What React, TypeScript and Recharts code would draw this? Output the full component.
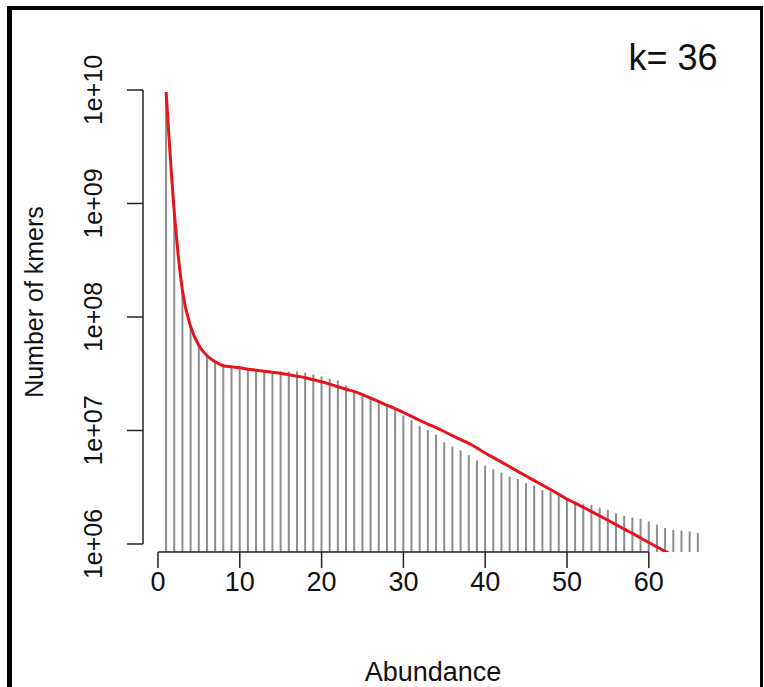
import React from "react";
import { ComposedChart, Bar, Line, XAxis, YAxis, ReferenceLine } from "recharts";

const abundance = [
  1, 2, 3, 4, 5, 6, 7, 8, 9, 10, 11, 12, 13, 14, 15, 16, 17, 18, 19, 20, 21, 22,
  23, 24, 25, 26, 27, 28, 29, 30, 31, 32, 33, 34, 35, 36, 37, 38, 39, 40, 41, 42,
  43, 44, 45, 46, 47, 48, 49, 50, 51, 52, 53, 54, 55, 56, 57, 58, 59, 60, 61, 62,
  63, 64, 65, 66,
];

const kmerCounts = [
  9.4e9, 8.0e8, 1.66e8, 7.9e7, 5.8e7, 4.65e7, 4.11e7, 3.72e7, 3.64e7, 3.53e7,
  3.43e7, 3.36e7, 3.29e7, 3.29e7, 3.31e7, 3.31e7, 3.31e7, 3.23e7, 3.12e7, 2.99e7,
  2.86e7, 2.76e7, 2.49e7, 2.26e7, 2.04e7, 1.91e7, 1.85e7, 1.69e7, 1.51e7, 1.35e7,
  1.23e7, 1.1e7, 1.01e7, 9.2e6, 7.85e6, 7.24e6, 6.68e6, 6.04e6, 5.46e6, 4.9e6,
  4.55e6, 4.26e6, 3.93e6, 3.74e6, 3.43e6, 3.27e6, 2.99e6, 2.9e6, 2.75e6, 2.45e6,
  2.37e6, 2.24e6, 2.21e6, 2.1e6, 2.0e6, 1.87e6, 1.77e6, 1.71e6, 1.67e6, 1.58e6,
  1.48e6, 1.38e6, 1.33e6, 1.31e6, 1.29e6, 1.25e6,
];

const fitCounts = [
  9.6e9, 8.3e8, 1.69e8, 8.2e7, 5.6e7, 4.55e7, 4.03e7, 3.72e7, 3.64e7, 3.57e7,
  3.46e7, 3.4e7, 3.33e7, 3.26e7, 3.19e7, 3.1e7, 3.01e7, 2.92e7, 2.8e7, 2.69e7,
  2.56e7, 2.43e7, 2.31e7, 2.2e7, 2.07e7, 1.93e7, 1.8e7, 1.67e7, 1.56e7, 1.44e7,
  1.33e7, 1.23e7, 1.14e7, 1.06e7, 9.8e6, 9.0e6, 8.3e6, 7.7e6, 7.0e6, 6.34e6,
  5.77e6, 5.26e6, 4.79e6, 4.36e6, 3.97e6, 3.62e6, 3.3e6, 3.01e6, 2.74e6, 2.49e6,
  2.29e6, 2.1e6, 1.93e6, 1.77e6, 1.62e6, 1.48e6, 1.35e6, 1.24e6, 1.13e6, 1.03e6,
  9.4e5, 8.6e5, 7.9e5, 7.2e5, 6.6e5, 6.0e5,
];

const xTicks = [0, 10, 20, 30, 40, 50, 60];
const yTicks = [1e6, 1e7, 1e8, 1e9, 1e10];
const yTickLabels = ["1e+06", "1e+07", "1e+08", "1e+09", "1e+10"];
const xDomain = [-1.83, 68.7];
const yDomain = [8.5e5, 1e10];

const data = abundance.map((a, i) => ({ a, count: kmerCounts[i], fit: fitCounts[i] }));

const FONT = "'Liberation Sans', Arial, sans-serif";

const XTick = (props: any) => {
  const { x, y, payload } = props;
  return (
    <text x={x} y={y + 21} textAnchor="middle" fontFamily={FONT} fontSize={27} fill="#111">
      {payload.value}
    </text>
  );
};

const YTick = (props: any) => {
  const { x, y, payload } = props;
  const idx = yTicks.indexOf(payload.value);
  const label = idx >= 0 ? yTickLabels[idx] : String(payload.value);
  const tx = x - 23;
  return (
    <text
      x={tx}
      y={y}
      textAnchor="middle"
      fontFamily={FONT}
      fontSize={25}
      fill="#111"
      transform={`rotate(-90, ${tx}, ${y})`}
    >
      {label}
    </text>
  );
};

export default function App() {
  return (
    <div
      style={{
        position: "fixed",
        left: 0,
        top: 0,
        width: 764,
        height: 687,
        background: "#fff",
        overflow: "hidden",
      }}
    >
      <div
        style={{
          position: "absolute",
          left: 7,
          top: 6,
          width: 748,
          height: 700,
          borderLeft: "5px solid #000",
          borderTop: "4px solid #000",
          borderRight: "3px solid #000",
        }}
      />
      <div style={{ position: "absolute", left: 0, top: 0 }}>
        <ComposedChart
          width={764}
          height={687}
          data={data}
          margin={{ top: 90, right: 44, bottom: 105, left: 83 }}
        >
          <XAxis
            dataKey="a"
            type="number"
            domain={xDomain}
            ticks={xTicks}
            allowDataOverflow
            axisLine={false}
            tickLine={{ stroke: "#222", strokeWidth: 1.5 }}
            tickSize={16}
            height={30}
            tick={<XTick />}
          />
          <YAxis
            type="number"
            scale="log"
            domain={yDomain}
            ticks={yTicks}
            allowDataOverflow
            axisLine={false}
            tickLine={{ stroke: "#222", strokeWidth: 1.5 }}
            tickSize={16}
            width={60}
            tick={<YTick />}
          />
          <Bar dataKey="count" fill="#8d8d8d" barSize={2} isAnimationActive={false} />
          <Line
            dataKey="fit"
            type="monotone"
            stroke="#e8141c"
            strokeWidth={3}
            dot={false}
            isAnimationActive={false}
          />
          <ReferenceLine
            segment={[
              { x: 0, y: yDomain[0] },
              { x: 60, y: yDomain[0] },
            ]}
            stroke="#222"
            strokeWidth={1.5}
            ifOverflow="visible"
          />
          <ReferenceLine
            segment={[
              { x: xDomain[0], y: 1e6 },
              { x: xDomain[0], y: 1e10 },
            ]}
            stroke="#222"
            strokeWidth={1.5}
            ifOverflow="visible"
          />
        </ComposedChart>
      </div>
      <div
        style={{
          position: "absolute",
          left: 0,
          top: 0,
          width: 764,
          height: 687,
          pointerEvents: "none",
        }}
      >
        <svg width={764} height={687}>
          <text x={673} y={70} textAnchor="middle" fontFamily={FONT} fontSize={36} fill="#111">
            k= 36
          </text>
          <text x={433} y={681} textAnchor="middle" fontFamily={FONT} fontSize={27} fill="#111">
            Abundance
          </text>
          <text
            x={43}
            y={302}
            textAnchor="middle"
            fontFamily={FONT}
            fontSize={25}
            fill="#111"
            transform="rotate(-90, 43, 302)"
          >
            Number of kmers
          </text>
        </svg>
      </div>
    </div>
  );
}
